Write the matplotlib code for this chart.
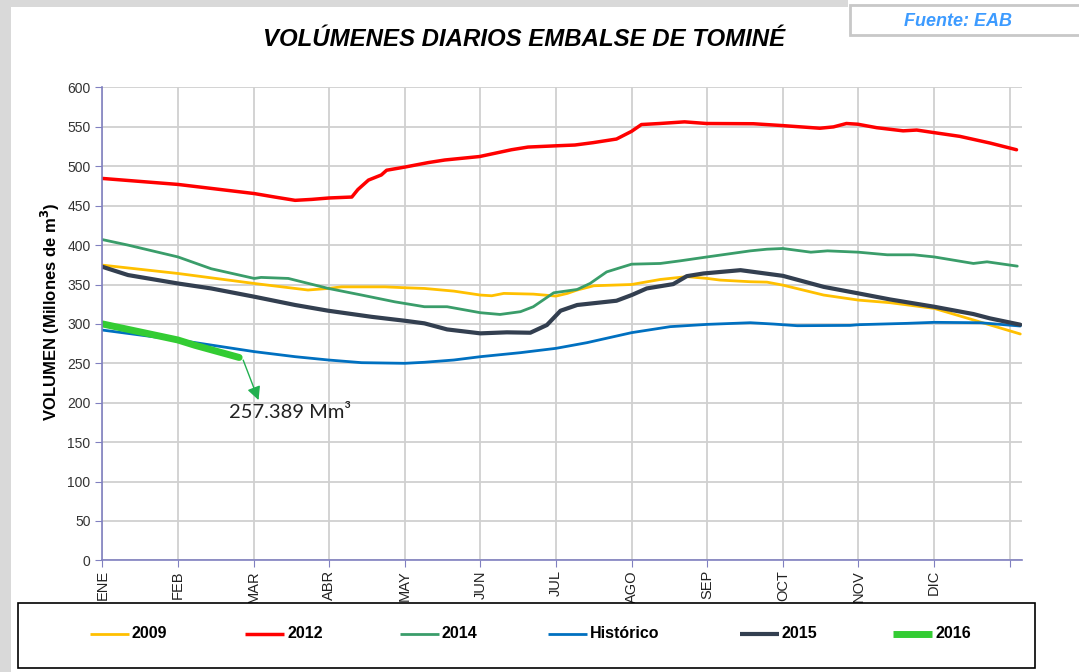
import numpy as np
import matplotlib
matplotlib.use("Agg")
import matplotlib.pyplot as plt
from matplotlib.patches import Rectangle
from matplotlib.lines import Line2D

plt.rcParams["font.family"] = ["Liberation Sans", "DejaVu Sans"]

MONTHS = ["ENE", "FEB", "MAR", "ABR", "MAY", "JUN", "JUL", "AGO", "SEP", "OCT", "NOV", "DIC", ""]

# x = position in months from 1 Jan (0 = ENE, 12 = end of year), y = volume (Mm3)
x_2009 = [0, 1, 2.01, 2.72, 2.99, 3.16, 3.74, 4.0, 4.26, 4.65, 5.0, 5.15, 5.31, 5.7, 6.0, 6.15, 6.28,
          6.5, 7.0, 7.38, 7.73, 8.0, 8.17, 8.57, 8.79, 9.0, 9.54, 10.0, 10.42, 11.0, 11.52, 12.14]
y_2009 = [374.6, 364, 351.3, 343, 345, 347, 347, 345.9, 345, 341.6, 336.6, 335.7, 338.7, 337.8, 335.3, 338.7, 343,
          348.4, 350, 356.4, 360, 357.7, 355.6, 353.5, 353, 349.2, 336.6, 330.2, 326.9, 319.7, 305, 287.2]

x_2012 = [0, 1.0, 2.01, 2.28, 2.55, 2.77, 3.0, 3.3, 3.38, 3.52, 3.69, 3.76, 4.0, 4.31, 4.53, 4.99, 5.41, 5.63,
          6.0, 6.25, 6.49, 6.8, 7.0, 7.13, 7.37, 7.7, 7.99, 8.61, 8.99, 9.49, 9.67, 9.84, 9.99, 10.24, 10.59,
          10.77, 10.98, 11.34, 11.74, 12.09]
y_2012 = [484.6, 477, 465.4, 461, 456.8, 458, 459.8, 461, 470.5, 482.5, 489, 495, 499, 504.7, 508, 512.4, 521, 524.4,
          526, 527, 530, 534.6, 544.4, 553, 554.3, 556.4, 554.3, 554, 551.7, 548.3, 550, 554.3, 553.4, 549, 545,
          546, 543, 538, 529.5, 521]

x_2014 = [0, 0.34, 1, 1.44, 2.01, 2.1, 2.46, 2.99, 3.43, 3.87, 4.26, 4.56, 5.0, 5.26, 5.53, 5.7, 5.97, 6.28,
          6.45, 6.67, 7.0, 7.38, 7.64, 8.0, 8.57, 8.79, 9.0, 9.37, 9.59, 10.0, 10.38, 10.73, 11.0, 11.52, 11.7, 12.1]
y_2014 = [407, 400, 385, 370, 357.7, 359, 357.7, 345, 336.6, 328, 321.8, 321.8, 314.2, 312, 315.5, 321.8, 339.5, 343.7,
          351.3, 366, 375.8, 376.7, 380, 385, 392.7, 394.8, 395.7, 391, 392.7, 391, 387.7, 387.7, 385, 376.7, 378.8, 373.3]

x_hist = [0, 1, 2.01, 2.55, 2.99, 3.43, 4.0, 4.26, 4.65, 5.0, 5.53, 6.0, 6.41, 7.0, 7.51, 8.0, 8.57, 8.88,
          9.19, 9.89, 10.0, 10.64, 11.0, 11.61, 12.14]
y_hist = [292.2, 279.6, 264.8, 258.4, 254.2, 250.8, 250, 251.3, 254.2, 258.4, 263.5, 269, 276.2, 288.9, 296.5, 299.4, 301.5, 299.8,
          297.7, 298.1, 299, 300.7, 302, 301.5, 297.3]

x_2015 = [0, 0.34, 1, 1.44, 2.01, 2.55, 2.99, 3.56, 4.0, 4.26, 4.56, 5.0, 5.35, 5.66, 5.88, 6.06, 6.28, 6.8,
          7.0, 7.2, 7.55, 7.73, 7.95, 8.44, 9.0, 9.54, 10.0, 10.42, 11.0, 11.52, 11.74, 12.14]
y_2015 = [372.5, 362, 351.3, 345, 334.5, 324, 316.7, 309, 304, 300.7, 293, 288, 289.3, 288.8, 298.6, 316.7, 324, 329.4,
          336.6, 345, 350.5, 360.6, 364, 368.2, 361, 347, 338.7, 331, 321.8, 312.5, 307, 299]

x_2016 = [0, 1, 1.22, 1.81]
y_2016 = [300, 279.6, 273, 257.4]

last_2016 = 257.389
arrow_tip = (2.08, 200)
label_pos = (1.68, 188)

series = [
    ("2009", x_2009, y_2009, "#ffc000", 2.0),
    ("2012", x_2012, y_2012, "#ff0000", 2.5),
    ("2014", x_2014, y_2014, "#3a9d6a", 2.0),
    ("Histórico", x_hist, y_hist, "#0070c0", 2.0),
    ("2015", x_2015, y_2015, "#333f50", 3.0),
    ("2016", x_2016, y_2016, "#33cc33", 5.0),
]
# left pixel of each legend key line
legend_x = [90, 245, 400, 548, 740, 893]

W, H = 1079, 672
fig = plt.figure(figsize=(W / 100, H / 100), dpi=100)
ax = fig.add_axes([0.0948, 0.1662, 0.8522, 0.7036])

for name, xs, ys, col, lw in series:
    ax.plot(xs, ys, color=col, lw=lw, solid_capstyle="round", label=name)

ax.set_xlim(0, 12.16)
ax.set_ylim(0, 600)
ax.set_yticks(np.arange(0, 601, 50))
ax.set_xticks(range(13))
ax.set_xticklabels(MONTHS, rotation=90, fontsize=10.5, color="#222222")
ax.tick_params(axis="y", labelsize=10, labelcolor="#333333", length=5, color="#8080c0")
ax.tick_params(axis="x", length=5, color="#8080c0", pad=2)
ax.grid(True, color="#d0d0d0", lw=1.3)
ax.set_axisbelow(True)
for s in ["top", "right"]:
    ax.spines[s].set_visible(False)
for s in ["left", "bottom"]:
    ax.spines[s].set_color("#8080c0")
    ax.spines[s].set_linewidth(1.2)

ax.set_ylabel(r"VOLUMEN (Millones de m$^\mathbf{3}$)", fontsize=12, fontweight="bold")
ax.yaxis.set_label_coords(-0.044, 0.525)

# annotation for last 2016 value
ax.annotate("", xy=arrow_tip, xytext=(x_2016[-1] + 0.04, y_2016[-1]),
            arrowprops=dict(arrowstyle="-|>", color="#22b050", lw=1, mutation_scale=20))
ax.text(label_pos[0], label_pos[1], f"{last_2016:.3f} Mm³", fontsize=14.5, family=["Lato", "DejaVu Sans"],
        color="#222222", va="center", ha="left")

fig.text(524 / W, 1 - 40 / H, "VOLÚMENES DIARIOS EMBALSE DE TOMINÉ", ha="center", va="center",
         fontsize=17.3, fontweight="bold", style="italic")

# source box
fig.add_artist(Rectangle((850 / W, 1 - 35 / H), 235 / W, 30 / H, transform=fig.transFigure,
                         facecolor="white", edgecolor="#c8c8c8", lw=2))
fig.text(958 / W, 1 - 21 / H, "Fuente: EAB", ha="center", va="center", fontsize=13,
         fontweight="bold", style="italic", color="#3d9bff", family=["Liberation Sans Narrow", "Liberation Sans"])

# gray frame strips
fig.add_artist(Rectangle((0, 0), 11 / W, 1, transform=fig.transFigure, facecolor="#d9d9d9", edgecolor="none"))
fig.add_artist(Rectangle((0, 1 - 7 / H), 848 / W, 7 / H, transform=fig.transFigure,
                         facecolor="#d9d9d9", edgecolor="none"))

# legend frame + entries
fig.add_artist(Rectangle((18 / W, 1 - 668 / H), 1017 / W, 65 / H, transform=fig.transFigure,
                         facecolor="white", edgecolor="black", lw=1.2))
ly = 1 - 634 / H
for (name, xs, ys, col, lw), lx in zip(series, legend_x):
    fig.add_artist(Line2D([lx / W, (lx + 39) / W], [ly, ly], transform=fig.transFigure,
                          color=col, lw=lw, solid_capstyle="butt"))
    fig.text((lx + 42) / W, ly, name, ha="left", va="center", fontsize=11.5, fontweight="bold")

fig.savefig("out.png", dpi=100)
